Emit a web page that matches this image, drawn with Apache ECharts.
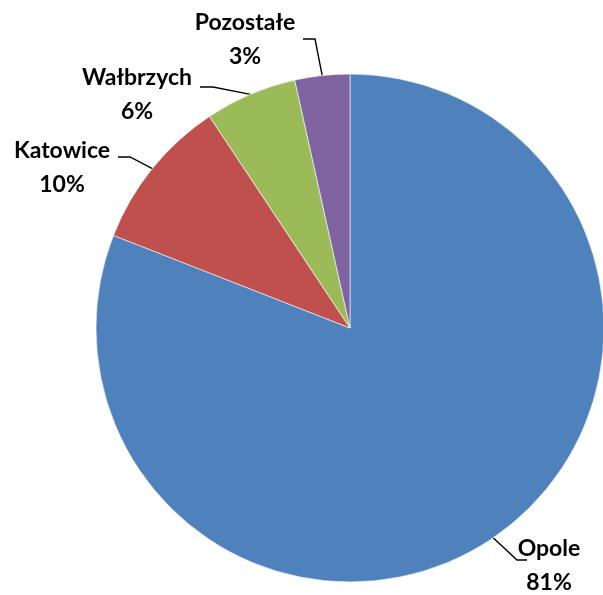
<!DOCTYPE html>
<html><head><meta charset="utf-8">
<script src="https://cdn.jsdelivr.net/npm/echarts@6/dist/echarts.min.js"></script>
<style>html,body{margin:0;padding:0;background:#fff}#c{width:603px;height:595px}</style>
</head><body><div id="c"></div>
<script>
const categories = ['Opole', 'Katowice', 'Wałbrzych', 'Pozostałe'];
const values = [80.94, 9.73, 5.84, 3.49];
const colors = ['#4F81BD', '#C0504D', '#9BBB59', '#8064A2'];

const LAYOUT = [
  {x: 549, y: 566, p1: [517, 560], p2: [527, 560]},
  {x: 62, y: 168, p1: [130, 157], p2: [118, 157]},
  {x: 137, y: 95, p1: [213, 87], p2: [200, 87]},
  {x: 245, y: 40, p1: [315, 39], p2: [303, 39]}
];

const chart = echarts.init(document.getElementById('c'));
chart.setOption({
  animation: false,
  series: [{
    type: 'pie',
    center: [350, 328],
    radius: [0, 254],
    startAngle: 90,
    clockwise: true,
    data: categories.map((n, i) => ({name: n, value: values[i], itemStyle: {color: colors[i]}})),
    itemStyle: {borderColor: '#ffffff', borderWidth: 0.6},
    label: {
      show: true,
      formatter: p => p.name + '\n' + Math.round(p.percent) + '%',
      fontFamily: 'Lato',
      fontWeight: 'bold',
      fontSize: 23,
      lineHeight: 34,
      color: '#000',
      align: 'center',
      overflow: 'none',
      width: 160
    },
    labelLine: {show: true, length: 20, length2: 10, lineStyle: {color: '#000', width: 1.4}},
    labelLayout: function (p) {
      const L = LAYOUT[p.dataIndex];
      return {
        x: L.x, y: L.y, align: 'center', verticalAlign: 'middle',
        labelLinePoints: [p.labelLinePoints[0], L.p1, L.p2]
      };
    },
    emphasis: {disabled: true}
  }]
});
</script></body></html>
